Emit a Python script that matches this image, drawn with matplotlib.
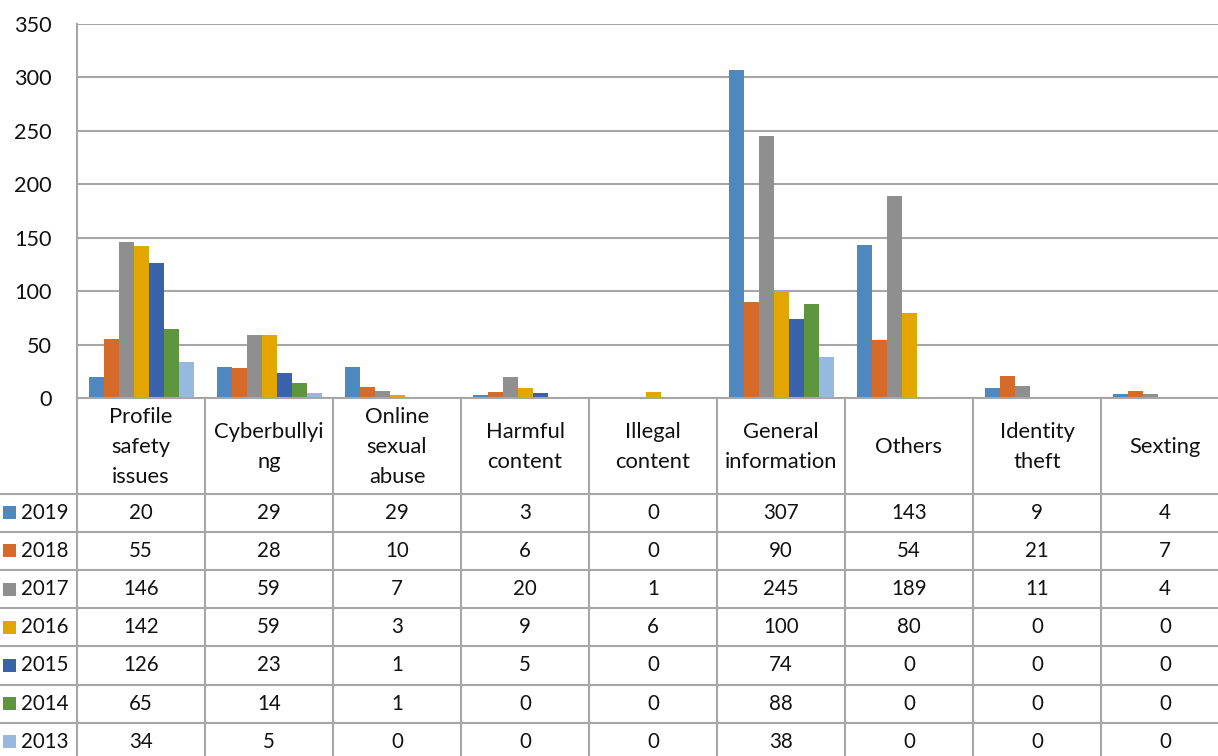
import matplotlib
matplotlib.use("Agg")
import matplotlib.pyplot as plt
from matplotlib import transforms
from matplotlib.patches import Rectangle

categories = ["Profile\nsafety\nissues", "Cyberbullyi\nng", "Online\nsexual\nabuse",
              "Harmful\ncontent", "Illegal\ncontent", "General\ninformation",
              "Others", "Identity\ntheft", "Sexting"]
years = ["2019", "2018", "2017", "2016", "2015", "2014", "2013"]
v2019 = [20, 29, 29, 3, 0, 307, 143, 9, 4]
v2018 = [55, 28, 10, 6, 0, 90, 54, 21, 7]
v2017 = [146, 59, 7, 20, 1, 245, 189, 11, 4]
v2016 = [142, 59, 3, 9, 6, 100, 80, 0, 0]
v2015 = [126, 23, 1, 5, 0, 74, 0, 0, 0]
v2014 = [65, 14, 1, 0, 0, 88, 0, 0, 0]
v2013 = [34, 5, 0, 0, 0, 38, 0, 0, 0]
series = [v2019, v2018, v2017, v2016, v2015, v2014, v2013]
colors = ["#4F88BF", "#D46B2B", "#8F8F8F", "#E3A600", "#3A62AB", "#5E9640", "#97B9E0"]
yticks = [0, 50, 100, 150, 200, 250, 300, 350]

W, H = 1218, 756
fig = plt.figure(figsize=(W / 100, H / 100), dpi=100)
FONT = "Lato"
FS_NUM = 14.8
FS_TXT = 15.8
grid_c = "#A6A6A6"
txt_c = "#111111"

# main plot area (extends slightly past the right edge, as in the reference)
left_px, right_px, top_px, zero_px = 77, 1229, 24, 398
ax = fig.add_axes([left_px / W, 1 - zero_px / H, (right_px - left_px) / W, (zero_px - top_px) / H])
n = len(categories)
ax.set_xlim(-0.5, n - 0.5)
ax.set_ylim(0, 350)
bw = 15 / 128
for k, (vals, c) in enumerate(zip(series, colors)):
    xs = [i + (k - 3) * bw for i in range(n)]
    ax.bar(xs, vals, width=bw, color=c, zorder=3, linewidth=0)

ax.set_yticks(yticks)
ax.set_yticklabels([str(t) for t in yticks], fontfamily=FONT, fontsize=FS_NUM + 0.8, color=txt_c)
ax.tick_params(axis="y", length=0, pad=18)
ax.set_xticks([])
ax.yaxis.grid(True, color=grid_c, linewidth=1.5, zorder=0)
for s in ["top", "right", "bottom"]:
    ax.spines[s].set_visible(False)
ax.spines["left"].set_color(grid_c)
ax.spines["left"].set_linewidth(1.5)
ax.axhline(0, color=grid_c, linewidth=1.5, zorder=4, clip_on=False)

# data table below the plot, x from data coords, y in figure pixels
tr = transforms.blended_transform_factory(ax.transData, fig.transFigure)
def fy(px):
    return 1 - px / H

header_bottom = 493.5
row_h = 38.2
x_leg = -0.5 - left_px / 128.0  # left figure edge in data units
# vertical lines
for i in range(n + 1):
    xb = i - 0.5
    ax.plot([xb, xb], [fy(zero_px), fy(H + 10)], transform=tr, color=grid_c,
            linewidth=1.5, clip_on=False, zorder=5)
# horizontal lines
for r in range(len(years) + 1):
    yp = header_bottom + r * row_h
    ax.plot([x_leg, n - 0.5], [fy(yp), fy(yp)], transform=tr, color=grid_c,
            linewidth=1.5, clip_on=False, zorder=5)
# header text
for i, cat in enumerate(categories):
    ax.text(i, fy((zero_px + header_bottom) / 2 + 1), cat, transform=tr, ha="center", va="center",
            fontfamily=FONT, fontsize=FS_TXT, linespacing=1.62, clip_on=False, color=txt_c)
# rows
for r, (yr, vals, c) in enumerate(zip(years, series, colors)):
    yc = header_bottom + (r + 0.5) * row_h
    fig.patches.append(Rectangle((3 / W, fy(yc + 6.5)), 13 / W, 13 / H,
                                 transform=fig.transFigure, color=c, linewidth=0))
    fig.text(21 / W, fy(yc), yr, ha="left", va="center", fontfamily=FONT, fontsize=FS_NUM, color=txt_c)
    for i, v in enumerate(vals):
        ax.text(i, fy(yc), str(v), transform=tr, ha="center", va="center",
                fontfamily=FONT, fontsize=FS_NUM, clip_on=False, color=txt_c)

fig.savefig("out.png", dpi=100)
